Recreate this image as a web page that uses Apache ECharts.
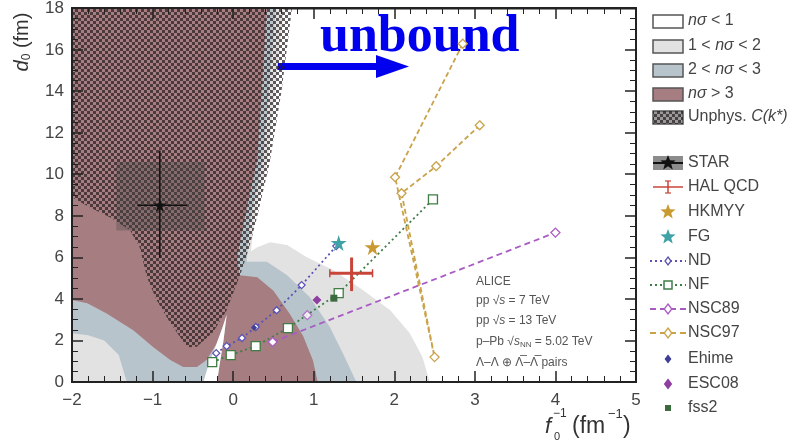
<!DOCTYPE html>
<html><head><meta charset="utf-8">
<script src="https://cdn.jsdelivr.net/npm/echarts@6/dist/echarts.min.js"></script>
<style>html,body{margin:0;padding:0;background:#fff}
#wrap{position:relative;width:806px;height:446px}
#c,#t{position:absolute;left:0;top:0;width:806px;height:446px}
#t{pointer-events:none}</style>
</head><body><div id="wrap"><div id="c"></div><div id="t"></div></div>
<script>
// ---------------- data (data coordinates) ----------------
const xRange = [-2, 5];
const yRange = [0, 18];
const xMajorStep = 1, yMajorStep = 2;
// contour regions
const region1to2 = [[-2,0],[2.44,0],[2.35,1.2],[2.19,2.36],[1.95,3.46],[1.61,4.43],[1.24,5.4],[0.92,6.0],[0.67,6.6],[0.46,6.74],[0.3,6.5],[0.22,6.3],[0.27,8],[0.43,10.7],[0.63,18],[-2,18]];
const region2to3 = [[-2,2.35],[-1.8,2.25],[-1.6,2.0],[-1.42,1.3],[-1.32,0],[1.53,0],[1.36,1.4],[1.2,2.65],[0.95,4.1],[0.67,5.15],[0.42,5.8],[0.17,5.8],[0.18,6.5],[0.22,8],[0.37,10.7],[0.53,18],[-2,18]];
const regionGt3 = [[-2,3.95],[-1.81,3.8],[-1.57,3.3],[-1.24,2.5],[-0.99,1.68],[-0.78,1.06],[-0.62,0.72],[-0.45,0.72],[-0.33,1.06],[-0.2,1.88],[-0.13,2.65],[-0.08,3.2],[-0.12,2.0],[-0.17,0.8],[-0.2,0],[1.05,0],[0.99,1.05],[0.87,2.2],[0.7,3.3],[0.5,4.4],[0.3,5.05],[0.08,5.15],[0.05,6.0],[0.15,8],[0.3,10.7],[0.42,18],[-2,18]];
const regionLt1Wedge = [[-0.37,0],[-0.3,0.9],[-0.22,1.7],[-0.13,2.65],[-0.08,3.25],[-0.12,2.0],[-0.17,0.8],[-0.2,0]];
const regionUnphys = [[-2,8.9],[-1.78,8.42],[-1.53,7.94],[-1.28,7.31],[-1.16,6.5],[-1.07,5.05],[-0.95,3.95],[-0.78,2.84],[-0.57,1.68],[-0.45,1.7],[-0.25,2.4],[-0.08,3.46],[0.1,5.3],[0.2,6.5],[0.3,8],[0.45,10.5],[0.6,14],[0.73,18],[-2,18]];
// measurements / models
const starPoint = [[-0.91, 8.52, -1.19, -0.57, 5.97, 11.16]];
const starSysBox = [[-1.45, 7.3, -0.35, 10.6]];
const halQcdPoint = [[1.47, 5.24, 1.20, 1.73, 4.38, 6.0]];
const hkmyyPoint = [[1.73, 6.5]];
const fgPoint = [[1.31, 6.7]];
const ndPoints = [[-0.21,1.39],[-0.08,1.73],[0.11,2.12],[0.28,2.65],[0.54,3.46],[0.85,4.67],[1.28,6.55]];
const nfPoints = [[-0.26,0.96],[-0.03,1.30],[0.28,1.73],[0.68,2.6],[1.31,4.28],[2.48,8.8]];
const nsc89Points = [[0.49,1.93],[4.0,7.2]];
const nsc89Extra = [[0.92,3.22]];
const nsc97Points = [[2.85,16.3],[2.01,9.87],[2.5,1.2],[2.09,9.1],[2.52,10.4],[3.06,12.37]];
const ehimePoint = [[0.26,2.62]];
const esc08Point = [[1.04,3.95]];
const fss2Point = [[1.25,4.04]];

// ---------------- styling ----------------
const C_LIGHT='#e2e2e2', C_BLUE='#b8c4cc', C_RED='#a67d80';
const C_ND='#5b52b5', C_NF='#3f7d45', C_N89='#a95bc4', C_N97='#c9a24a', C_EH='#3f3f98', C_ESC='#8e3fa0', C_FSS='#3d6b40';
const C_HAL='#c8453a', C_HK='#c89a30', C_FG='#3fa2a6';
const FONT='"Liberation Sans", Arial, sans-serif';
const starPath='path://M50,2 L61,37 L98,37 L68,59 L79,95 L50,73 L21,95 L32,59 L2,37 L39,37 Z';

const pc=document.createElement('canvas'); pc.width=6; pc.height=6;
const pg=pc.getContext('2d'); pg.fillStyle='rgba(40,30,32,0.72)'; pg.fillRect(0,0,3,3); pg.fillRect(3,3,3,3);
const hatch={image:pc, repeat:'repeat'};

function polySeries(pts, fill, z){
  return {type:'custom', silent:true, z, clip:true, data:[0],
    renderItem:(p,api)=>({type:'polygon', shape:{points:pts.map(q=>api.coord(q))}, style:{fill}})};
}
function errSeries(pts, color, width, cap, z){
  return {type:'custom', z, silent:true, data:pts, renderItem:(p,api)=>{
    const x=api.value(0), y=api.value(1);
    const a=api.coord([api.value(2),y]), b=api.coord([api.value(3),y]);
    const c=api.coord([x,api.value(4)]), d=api.coord([x,api.value(5)]);
    const st={stroke:color, lineWidth:width};
    const ch=[{type:'line',shape:{x1:a[0],y1:a[1],x2:b[0],y2:b[1]},style:st},
              {type:'line',shape:{x1:c[0],y1:c[1],x2:d[0],y2:d[1]},style:st}];
    if(cap){
      ch.push({type:'line',shape:{x1:a[0],y1:a[1]-cap,x2:a[0],y2:a[1]+cap},style:{stroke:color,lineWidth:1.5}});
      ch.push({type:'line',shape:{x1:b[0],y1:b[1]-cap,x2:b[0],y2:b[1]+cap},style:{stroke:color,lineWidth:1.5}});
    }
    return {type:'group', children:ch};
  }};
}
function boxSeries(boxes, fill, z){
  return {type:'custom', z, silent:true, data:boxes, renderItem:(p,api)=>{
    const a=api.coord([api.value(0),api.value(3)]), b=api.coord([api.value(2),api.value(1)]);
    return {type:'rect', shape:{x:a[0],y:a[1],width:b[0]-a[0],height:b[1]-a[1]}, style:{fill}};
  }};
}
function lineSeries(name, pts, color, dash, symbol, size, z){
  return {type:'line', name, data:pts, z, symbol, symbolSize:size, showSymbol:true,
    lineStyle:{color, width:1.8, type:dash}, itemStyle:{color:'#fff', borderColor:color, borderWidth:1.3}};
}
function scat(name, pts, color, symbol, size, z){
  return {type:'scatter', name, data:pts, z, symbol, symbolSize:size, itemStyle:{color, opacity:1}};
}

// legend graphics
const LX=653, TX=688;
const rows=[21,46,70,94,117,163,187,212,237,261,285,309,333,359,384,408];
const g=[];
function txt(y, t, rich){ const s={x:TX, y, text:t, font:'16px '+FONT, fill:'#444', verticalAlign:'middle'}; if(rich) s.rich=rich; g.push({type:'text', style:s}); }
const it={i:{fontStyle:'italic', fontSize:16, fontFamily:FONT, fill:'#444'}};
const boxFills=['#ffffff',C_LIGHT,C_BLUE,C_RED];
for(let k=0;k<4;k++){
  g.push({type:'rect', shape:{x:LX,y:rows[k]-6,width:30,height:13}, style:{fill:boxFills[k], stroke:'#555', lineWidth:1.5}});
}
g.push({type:'rect', shape:{x:LX,y:rows[4]-6,width:30,height:13}, style:{fill:'#9a9a9a', stroke:'#555', lineWidth:1.5}});
g.push({type:'rect', shape:{x:LX,y:rows[4]-6,width:30,height:13}, style:{fill:hatch}});
txt(rows[0], '{i|nσ} < 1', it);
txt(rows[1], '1 < {i|nσ} < 2', it);
txt(rows[2], '2 < {i|nσ} < 3', it);
txt(rows[3], '{i|nσ} > 3', it);
txt(rows[4], 'Unphys. {i|C(k*)}', it);
function starPts(cx,cy,R){const p=[];for(let k=0;k<10;k++){const r=k%2?R*0.42:R;const a=-Math.PI/2+k*Math.PI/5;p.push([cx+r*Math.cos(a),cy+r*Math.sin(a)]);}return p;}
g.push({type:'rect', shape:{x:LX,y:rows[5]-7,width:30,height:14}, style:{fill:'#8c8c8c'}});
g.push({type:'line', shape:{x1:LX,y1:rows[5],x2:LX+30,y2:rows[5]}, style:{stroke:'#111', lineWidth:2}});
g.push({type:'polygon', shape:{points:starPts(LX+15,rows[5],8)}, style:{fill:'#111'}});
txt(rows[5],'STAR');
g.push({type:'line', shape:{x1:LX,y1:rows[6],x2:LX+30,y2:rows[6]}, style:{stroke:C_HAL, lineWidth:1.5}});
g.push({type:'line', shape:{x1:LX+15,y1:rows[6]-6,x2:LX+15,y2:rows[6]+6}, style:{stroke:C_HAL, lineWidth:1.5}});
g.push({type:'line', shape:{x1:LX+12,y1:rows[6]-6,x2:LX+18,y2:rows[6]-6}, style:{stroke:C_HAL, lineWidth:1.2}});
g.push({type:'line', shape:{x1:LX+12,y1:rows[6]+6,x2:LX+18,y2:rows[6]+6}, style:{stroke:C_HAL, lineWidth:1.2}});
txt(rows[6],'HAL QCD');
g.push({type:'polygon', shape:{points:starPts(LX+15,rows[7],8)}, style:{fill:C_HK}}); txt(rows[7],'HKMYY');
g.push({type:'polygon', shape:{points:starPts(LX+15,rows[8],8)}, style:{fill:C_FG}}); txt(rows[8],'FG');
function lineIcon(y,color,dash){ g.push({type:'line', shape:{x1:LX-3,y1:y,x2:LX+33,y2:y}, style:{stroke:color, lineWidth:1.8, lineDash:dash}}); }
function diamondIcon(cx,cy,r,fill,stroke){ g.push({type:'polygon', shape:{points:[[cx,cy-r],[cx+r*0.75,cy],[cx,cy+r],[cx-r*0.75,cy]]}, style:{fill, stroke, lineWidth:1.3}}); }
lineIcon(rows[9],C_ND,[2,3]); diamondIcon(LX+15,rows[9],4,'#fff',C_ND); txt(rows[9],'ND');
lineIcon(rows[10],C_NF,[2,3]); g.push({type:'rect', shape:{x:LX+11,y:rows[10]-4,width:8,height:8}, style:{fill:'#fff',stroke:C_NF,lineWidth:1.5}}); txt(rows[10],'NF');
lineIcon(rows[11],C_N89,[6,4]); diamondIcon(LX+15,rows[11],5,'#fff',C_N89); txt(rows[11],'NSC89');
lineIcon(rows[12],C_N97,[6,4]); diamondIcon(LX+15,rows[12],5,'#fff',C_N97); txt(rows[12],'NSC97');
diamondIcon(LX+15,rows[13],3.5,C_EH,C_EH); txt(rows[13],'Ehime');
diamondIcon(LX+15,rows[14],4.5,C_ESC,C_ESC); txt(rows[14],'ESC08');
g.push({type:'rect', shape:{x:LX+12,y:rows[15]-3,width:6,height:6}, style:{fill:C_FSS}}); txt(rows[15],'fss2');

// axis titles
g.push({type:'text', x:22, y:42, rotation:Math.PI/2, style:{text:'{i|d}{s|0} (fm)', font:'20px '+FONT, fill:'#333', align:'center', verticalAlign:'middle',
  rich:{i:{fontStyle:'italic',fontSize:20,fontFamily:FONT,fill:'#333'}, s:{fontSize:12,fontFamily:FONT,fill:'#333',padding:[10,0,0,0]}}}});
g.push({type:'text', style:{x:545, y:427, text:'f', font:'italic 22px '+FONT, fill:'#333', verticalAlign:'middle'}});
g.push({type:'text', style:{x:553, y:414, text:'\u22121', font:'12px '+FONT, fill:'#333', verticalAlign:'middle'}});
g.push({type:'text', style:{x:554, y:437, text:'0', font:'11px '+FONT, fill:'#333', verticalAlign:'middle'}});
g.push({type:'text', style:{x:572, y:427, text:'(fm', font:'23px '+FONT, fill:'#333', verticalAlign:'middle'}});
g.push({type:'text', style:{x:608, y:414, text:'\u22121', font:'13px '+FONT, fill:'#333', verticalAlign:'middle'}});
g.push({type:'text', style:{x:623, y:427, text:')', font:'23px '+FONT, fill:'#333', verticalAlign:'middle'}});
// ALICE annotation
const ann=[['ALICE',282],['pp {r|√}{o|s} = 7 TeV',301],['pp {r|√}{o|s} = 13 TeV',321],['p\u2013Pb {r|√}{o|s}{sub|NN} = 5.02 TeV',342],['\u039B\u2013\u039B \u2295 \u039B\u0305\u2013\u039B\u0305 pairs',363]];
const annRich={r:{fontSize:12,fontFamily:FONT,fill:'#555'}, o:{fontSize:12,fontFamily:FONT,fill:'#555',fontStyle:'italic'}, sub:{fontSize:8,fontFamily:FONT,fill:'#555',padding:[6,0,0,0]}};
ann.forEach(a=>g.push({type:'text', style:{x:476, y:a[1], text:a[0], font:'12px '+FONT, fill:'#555', verticalAlign:'middle', rich:annRich}}));
// unbound annotation
g.push({type:'rect', shape:{x:228,y:63,width:150,height:7}, style:{fill:'#0000ee'}});
g.push({type:'polygon', shape:{points:[[376,55],[409,66.5],[376,78]]}, style:{fill:'#0000ee'}});
g.push({type:'text', style:{x:320, y:64, text:'unbound', font:'bold 52px "Liberation Serif", "Times New Roman", serif', fill:'#0000ee', verticalAlign:'bottom'}});

const GRID={left:72, right:170, top:8, bottom:64};
const option = {
  animation:false,
  grid:Object.assign({show:true, borderColor:'#222', borderWidth:2, backgroundColor:'transparent'}, GRID),
  xAxis:{type:'value', min:xRange[0], max:xRange[1], interval:xMajorStep,
    axisLine:{show:true, onZero:false, lineStyle:{color:'#222', width:2}},
    axisTick:{show:false}, minorTick:{show:false}, splitLine:{show:false},
    axisLabel:{color:'#444', fontSize:17, fontFamily:FONT, margin:10, formatter:v=>String(v).replace('-','\u2212')}},
  yAxis:{type:'value', min:yRange[0], max:yRange[1], interval:yMajorStep,
    axisLine:{show:true, onZero:false, lineStyle:{color:'#222', width:2}},
    axisTick:{show:false}, minorTick:{show:false}, splitLine:{show:false},
    axisLabel:{color:'#444', fontSize:17, fontFamily:FONT, margin:8}},
  series:[
    polySeries(region1to2, C_LIGHT, 1),
    polySeries(region2to3, C_BLUE, 1),
    polySeries(regionGt3, C_RED, 1),
    polySeries(regionLt1Wedge, '#ffffff', 1),
    polySeries(regionUnphys, hatch, 1),
    boxSeries(starSysBox, 'rgba(75,75,75,0.35)', 2),
    errSeries(starPoint, '#111', 1.5, 0, 3),
    scat('STAR', starPoint.map(p=>[p[0],p[1]]), '#111', starPath, 13, 4),
    lineSeries('ND', ndPoints, C_ND, [2,3], 'diamond', 7, 5),
    lineSeries('NF', nfPoints, C_NF, [2,3], 'rect', 9, 5),
    lineSeries('NSC89', nsc89Points, C_N89, [6,4], 'diamond', 9, 5),
    scat('NSC89b', nsc89Extra, '#fff', 'diamond', 9, 5),
    lineSeries('NSC97', nsc97Points, C_N97, [5,3], 'diamond', 9, 5),
    errSeries(halQcdPoint, C_HAL, 3, 4, 6),
    scat('HKMYY', hkmyyPoint, C_HK, starPath, 16, 7),
    scat('FG', fgPoint, C_FG, starPath, 16, 7),
    scat('Ehime', ehimePoint, C_EH, 'diamond', 6, 7),
    scat('ESC08', esc08Point, C_ESC, 'diamond', 9, 7),
    scat('fss2', fss2Point, C_FSS, 'rect', 7, 7)
  ],
  graphic:g
};
option.series[11].itemStyle={color:'#fff', borderColor:C_N89, borderWidth:1.3};
const chart = echarts.init(document.getElementById('c'));
chart.setOption(option);

// transparent overlay chart carrying only the inside ticks of all four axes
function tickAxis(pos, range, interval, minorSplit){
  return {type:'value', position:pos, min:range[0], max:range[1], interval,
    axisLine:{show:true, onZero:false, lineStyle:{color:'#222', width:2}},
    axisTick:{show:true, inside:true, length:11, lineStyle:{color:'#222', width:1.5}},
    minorTick:{show:true, splitNumber:minorSplit, length:6, lineStyle:{color:'#222', width:1}},
    splitLine:{show:false}, axisLabel:{show:false}};
}
const tickChart = echarts.init(document.getElementById('t'));
tickChart.setOption({
  animation:false,
  grid:GRID,
  xAxis:[tickAxis('bottom', xRange, xMajorStep, 5), tickAxis('top', xRange, xMajorStep, 5)],
  yAxis:[tickAxis('left', yRange, yMajorStep, 4), tickAxis('right', yRange, yMajorStep, 4)],
  series:[{type:'custom', data:[0], renderItem:()=>({type:'group', children:[]})}]
});
</script></body></html>
